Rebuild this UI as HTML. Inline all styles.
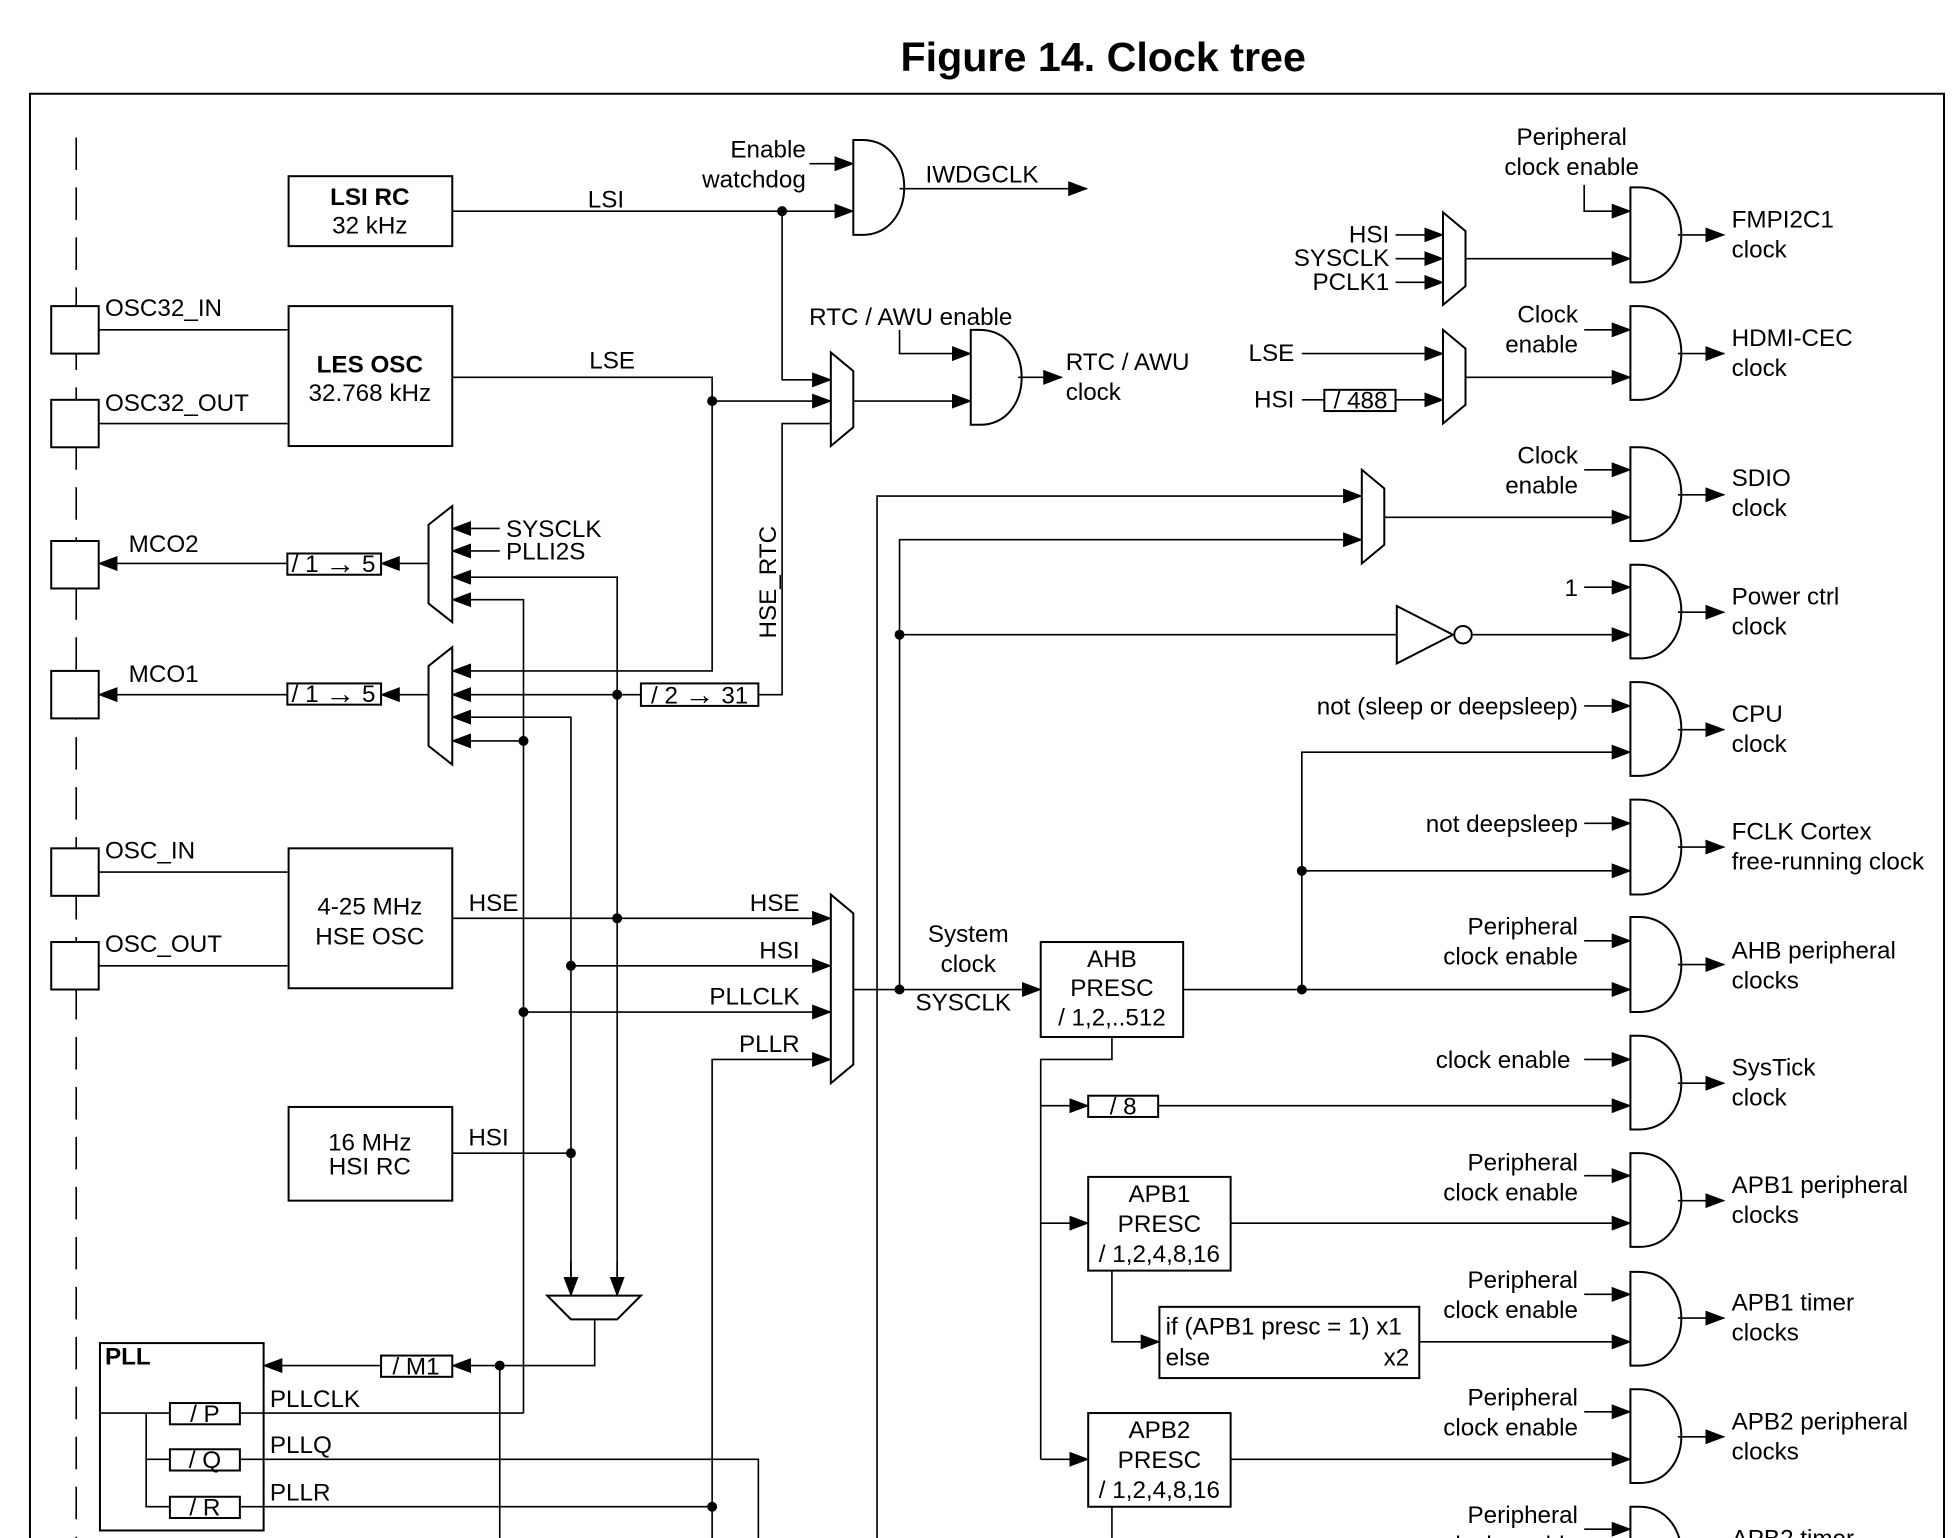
<!DOCTYPE html>
<html><head><meta charset="utf-8"><style>
html,body{margin:0;padding:0;background:#fff}
svg{display:block}
text{font-family:"Liberation Sans",Arial,sans-serif;font-size:19.4px;fill:#000}
.b{font-weight:bold}
.l{stroke:#000;stroke-width:1.3;fill:none}
.s{stroke:#000;stroke-width:1.6;fill:#fff}
.ar{font-size:24px}
</style></head><body>
<svg width="1959" height="1538" viewBox="0 0 1568 1231" xmlns="http://www.w3.org/2000/svg">
<defs>
<marker id="a" markerUnits="userSpaceOnUse" markerWidth="16" markerHeight="12" refX="15" refY="6" orient="auto"><path d="M0,0 L16,6 L0,12 Z" fill="#000"/></marker>
</defs>
<text x="883" y="57" text-anchor="middle" class="b" style="font-size:33px">Figure 14. Clock tree</text>
<path class="l" d="M24,1231 V75 H1556 V1231" style="stroke-width:1.6"/>
<line x1="61" y1="110" x2="61" y2="1231" class="l" stroke-dasharray="26,14"/>

<!-- pads -->
<g class="s">
<rect x="41" y="245" width="38" height="38"/><rect x="41" y="320" width="38" height="38"/>
<rect x="41" y="433" width="38" height="38"/><rect x="41" y="537" width="38" height="38"/>
<rect x="41" y="679" width="38" height="38"/><rect x="41" y="754" width="38" height="38"/>
</g>
<text x="84" y="253">OSC32_IN</text><text x="84" y="329">OSC32_OUT</text>
<text x="103" y="442">MCO2</text><text x="103" y="546">MCO1</text>
<text x="84" y="687">OSC_IN</text><text x="84" y="762">OSC_OUT</text>
<path class="l" d="M79,264H230 M79,339H230 M79,698H230 M79,773H230"/>

<!-- boxes left -->
<g class="s">
<rect x="231" y="141" width="131" height="56"/>
<rect x="231" y="245" width="131" height="112"/>
<rect x="231" y="679" width="131" height="112"/>
<rect x="231" y="886" width="131" height="75"/>
<rect x="80" y="1075" width="131" height="150"/>
</g>
<text x="296" y="164" text-anchor="middle" class="b">LSI RC</text><text x="296" y="187" text-anchor="middle">32 kHz</text>
<text x="296" y="298" text-anchor="middle" class="b">LES OSC</text><text x="296" y="321" text-anchor="middle">32.768 kHz</text>
<text x="296" y="732" text-anchor="middle">4-25 MHz</text><text x="296" y="756" text-anchor="middle">HSE OSC</text>
<text x="296" y="921" text-anchor="middle">16 MHz</text><text x="296" y="940" text-anchor="middle">HSI RC</text>
<text x="84" y="1092" class="b">PLL</text>

<!-- LSI / IWDG -->
<path class="l" d="M362,169H683" marker-end="url(#a)"/>
<text x="485" y="166" text-anchor="middle">LSI</text>
<text x="645" y="126" text-anchor="end">Enable</text><text x="645" y="150" text-anchor="end">watchdog</text>
<path class="l" d="M648,131H683" marker-end="url(#a)"/>
<path class="s" d="M683,112 H690 C735,112 735,188 690,188 H683 Z"/>
<path class="l" d="M720,151H870" marker-end="url(#a)"/>
<text x="786" y="146" text-anchor="middle">IWDGCLK</text>
<path class="l" d="M626,169V304H665" marker-end="url(#a)"/>

<!-- RTC -->
<path class="s" d="M665,282 L683,297 L683,342 L665,357 Z"/>
<path class="l" d="M362,302H570V537H362" marker-end="url(#a)"/>
<path class="l" d="M570,321H665" marker-end="url(#a)"/>
<text x="490" y="295" text-anchor="middle">LSE</text>
<path class="l" d="M665,339H626V556H607"/>
<text transform="translate(621,466) rotate(-90)" text-anchor="middle">HSE_RTC</text>
<path class="l" d="M683,321H777" marker-end="url(#a)"/>
<text x="729" y="260" text-anchor="middle">RTC / AWU enable</text>
<path class="l" d="M720,264V283H777" marker-end="url(#a)"/>
<path class="s" d="M777,264 H784 C829,264 829,340 784,340 H777 Z"/>
<path class="l" d="M815,302H850" marker-end="url(#a)"/>
<text x="853" y="296">RTC / AWU</text><text x="853" y="320">clock</text>

<!-- MCO2 mux -->
<path class="s" d="M343,420 L362,405 L362,498 L343,483 Z"/>
<path class="l" d="M400,423H362" marker-end="url(#a)"/><text x="405" y="430">SYSCLK</text>
<path class="l" d="M400,441H362" marker-end="url(#a)"/><text x="405" y="448">PLLI2S</text>
<path class="l" d="M494,1030V462H362" marker-end="url(#a)"/>
<path class="l" d="M419,1131V480H362" marker-end="url(#a)"/>
<path class="l" d="M343,451H305" marker-end="url(#a)"/>
<rect class="s" x="230" y="443" width="75" height="17"/><text x="267" y="458" text-anchor="middle">/ 1 <tspan class="ar" dy="1">→</tspan><tspan dy="-1"> 5</tspan></text>
<path class="l" d="M230,451H79" marker-end="url(#a)"/>

<!-- MCO1 mux -->
<path class="s" d="M343,533 L362,518 L362,612 L343,597 Z"/>
<path class="l" d="M513,556H362" marker-end="url(#a)"/>
<rect class="s" x="513" y="547" width="94" height="18"/><text x="560" y="563" text-anchor="middle">/ 2 <tspan class="ar" dy="1">→</tspan><tspan dy="-1"> 31</tspan></text>
<path class="l" d="M457,1030V574H362" marker-end="url(#a)"/>
<path class="l" d="M419,593H362" marker-end="url(#a)"/>
<path class="l" d="M343,556H305" marker-end="url(#a)"/>
<rect class="s" x="230" y="547" width="75" height="17"/><text x="267" y="562" text-anchor="middle">/ 1 <tspan class="ar" dy="1">→</tspan><tspan dy="-1"> 5</tspan></text>
<path class="l" d="M230,556H79" marker-end="url(#a)"/>
<path class="l" d="M457,1010V1037" marker-end="url(#a)"/>
<path class="l" d="M494,1010V1037" marker-end="url(#a)"/>

<!-- dots -->
<g fill="#000">
<circle cx="626" cy="169" r="4"/><circle cx="570" cy="321" r="4"/><circle cx="494" cy="556" r="4"/>
<circle cx="419" cy="593" r="4"/><circle cx="494" cy="735" r="4"/><circle cx="457" cy="773" r="4"/>
<circle cx="419" cy="810" r="4"/><circle cx="457" cy="923" r="4"/><circle cx="400" cy="1093" r="4"/>
<circle cx="570" cy="1206" r="4"/><circle cx="720" cy="792" r="4"/><circle cx="720" cy="508" r="4"/>
<circle cx="1042" cy="697" r="4"/><circle cx="1042" cy="792" r="4"/>
</g>

<!-- system mux inputs -->
<path class="l" d="M362,735H665" marker-end="url(#a)"/><text x="395" y="729" text-anchor="middle">HSE</text><text x="640" y="729" text-anchor="end">HSE</text>
<path class="l" d="M457,773H665" marker-end="url(#a)"/><text x="640" y="767" text-anchor="end">HSI</text>
<path class="l" d="M419,810H665" marker-end="url(#a)"/><text x="640" y="804" text-anchor="end">PLLCLK</text>
<path class="l" d="M570,1231V848H665" marker-end="url(#a)"/><text x="640" y="842" text-anchor="end">PLLR</text>
<path class="l" d="M362,923H457"/><text x="391" y="917" text-anchor="middle">HSI</text>
<path class="s" d="M665,716 L683,731 L683,852 L665,867 Z"/>
<path class="l" d="M683,792H833" marker-end="url(#a)"/>
<text x="775" y="754" text-anchor="middle">System</text><text x="775" y="778" text-anchor="middle">clock</text>
<text x="771" y="809" text-anchor="middle">SYSCLK</text>

<!-- PLL input mux -->
<path class="s" d="M438,1037 H513 L494,1056 H457 Z"/>
<path class="l" d="M476,1056V1093H362" marker-end="url(#a)"/>
<rect class="s" x="305" y="1085" width="57" height="17"/><text x="333" y="1100" text-anchor="middle">/ M1</text>
<path class="l" d="M305,1093H211" marker-end="url(#a)"/>
<path class="l" d="M400,1093V1231"/>
<path class="l" d="M80,1131H136 M117,1131V1206H136 M117,1168H136"/>
<rect class="s" x="136" y="1123" width="56" height="17"/><text x="164" y="1138" text-anchor="middle">/ P</text>
<rect class="s" x="136" y="1160" width="56" height="17"/><text x="164" y="1175" text-anchor="middle">/ Q</text>
<rect class="s" x="136" y="1198" width="56" height="17"/><text x="164" y="1213" text-anchor="middle">/ R</text>
<path class="l" d="M192,1131H419 M192,1168H607V1231 M192,1206H570"/>
<text x="216" y="1126">PLLCLK</text><text x="216" y="1163">PLLQ</text><text x="216" y="1201">PLLR</text>

<!-- SDIO mux, inverter -->
<path class="l" d="M702,1231V397H1090" marker-end="url(#a)"/>
<path class="l" d="M720,792V432H1090" marker-end="url(#a)"/>
<path class="s" d="M1090,376 L1108,391 L1108,436 L1090,451 Z"/>
<path class="l" d="M1108,414H1305" marker-end="url(#a)"/>
<path class="l" d="M720,508H1118"/>
<path class="s" d="M1118,485 L1163,508 L1118,531 Z"/>
<circle class="s" cx="1171" cy="508" r="7"/>
<path class="l" d="M1178,508H1305" marker-end="url(#a)"/>

<!-- FMPI2C1 / HDMI muxes -->
<path class="s" d="M1155,170 L1173,185 L1173,229 L1155,244 Z"/>
<path class="l" d="M1117,188H1155" marker-end="url(#a)"/><text x="1112" y="194" text-anchor="end">HSI</text>
<path class="l" d="M1117,207H1155" marker-end="url(#a)"/><text x="1112" y="213" text-anchor="end">SYSCLK</text>
<path class="l" d="M1117,226H1155" marker-end="url(#a)"/><text x="1112" y="232" text-anchor="end">PCLK1</text>
<path class="l" d="M1173,207H1305" marker-end="url(#a)"/>
<path class="l" d="M1268,148V169H1305" marker-end="url(#a)"/>
<text x="1258" y="116" text-anchor="middle">Peripheral</text><text x="1258" y="140" text-anchor="middle">clock enable</text>
<path class="s" d="M1155,264 L1173,279 L1173,324 L1155,339 Z"/>
<path class="l" d="M1042,283H1155" marker-end="url(#a)"/><text x="1036" y="289" text-anchor="end">LSE</text>
<path class="l" d="M1042,320H1060 M1117,320H1155" marker-end="url(#a)"/><text x="1036" y="326" text-anchor="end">HSI</text>
<rect class="s" x="1060" y="312" width="57" height="17"/><text x="1089" y="327" text-anchor="middle">/ 488</text>
<path class="l" d="M1173,302H1305" marker-end="url(#a)"/>

<!-- AHB etc -->
<rect class="s" x="833" y="754" width="114" height="76"/>
<text x="890" y="774" text-anchor="middle">AHB</text><text x="890" y="797" text-anchor="middle">PRESC</text><text x="890" y="821" text-anchor="middle">/ 1,2,..512</text>
<path class="l" d="M947,792H1305" marker-end="url(#a)"/>
<path class="l" d="M1042,792V602H1305" marker-end="url(#a)"/>
<path class="l" d="M1042,697H1305" marker-end="url(#a)"/>
<path class="l" d="M890,830V848H833V1168"/>
<path class="l" d="M833,885H871" marker-end="url(#a)"/>
<rect class="s" x="871" y="877" width="56" height="17"/><text x="899" y="892" text-anchor="middle">/ 8</text>
<path class="l" d="M927,885H1305" marker-end="url(#a)"/>
<path class="l" d="M833,979H871" marker-end="url(#a)"/>
<rect class="s" x="871" y="942" width="114" height="75"/>
<text x="928" y="962" text-anchor="middle">APB1</text><text x="928" y="986" text-anchor="middle">PRESC</text><text x="928" y="1010" text-anchor="middle">/ 1,2,4,8,16</text>
<path class="l" d="M985,979H1305" marker-end="url(#a)"/>
<path class="l" d="M890,1017V1074H928" marker-end="url(#a)"/>
<rect class="s" x="928" y="1046" width="208" height="57"/>
<text x="933" y="1068">if (APB1 presc = 1) x1</text><text x="933" y="1093">else</text><text x="1128" y="1093" text-anchor="end">x2</text>
<path class="l" d="M1136,1074H1305" marker-end="url(#a)"/>
<path class="l" d="M833,1168H871" marker-end="url(#a)"/>
<rect class="s" x="871" y="1131" width="114" height="75"/>
<text x="928" y="1151" text-anchor="middle">APB2</text><text x="928" y="1175" text-anchor="middle">PRESC</text><text x="928" y="1199" text-anchor="middle">/ 1,2,4,8,16</text>
<path class="l" d="M985,1168H1305" marker-end="url(#a)"/>
<path class="l" d="M890,1206V1231"/>

<!-- right gates -->
<g class="s">
<path d="M1305,150 H1312 C1357,150 1357,226 1312,226 H1305 Z"/>
<path d="M1305,245 H1312 C1357,245 1357,320 1312,320 H1305 Z"/>
<path d="M1305,358 H1312 C1357,358 1357,433 1312,433 H1305 Z"/>
<path d="M1305,452 H1312 C1357,452 1357,527 1312,527 H1305 Z"/>
<path d="M1305,546 H1312 C1357,546 1357,621 1312,621 H1305 Z"/>
<path d="M1305,640 H1312 C1357,640 1357,716 1312,716 H1305 Z"/>
<path d="M1305,734 H1312 C1357,734 1357,810 1312,810 H1305 Z"/>
<path d="M1305,829 H1312 C1357,829 1357,904 1312,904 H1305 Z"/>
<path d="M1305,923 H1312 C1357,923 1357,998 1312,998 H1305 Z"/>
<path d="M1305,1018 H1312 C1357,1018 1357,1093 1312,1093 H1305 Z"/>
<path d="M1305,1112 H1312 C1357,1112 1357,1187 1312,1187 H1305 Z"/>
<path d="M1305,1206 H1312 C1357,1206 1357,1282 1312,1282 H1305 Z"/>
</g>
<g class="l">
<path d="M1343,188H1380" marker-end="url(#a)"/><path d="M1343,283H1380" marker-end="url(#a)"/>
<path d="M1343,396H1380" marker-end="url(#a)"/><path d="M1343,490H1380" marker-end="url(#a)"/>
<path d="M1343,584H1380" marker-end="url(#a)"/><path d="M1343,678H1380" marker-end="url(#a)"/>
<path d="M1343,772H1380" marker-end="url(#a)"/><path d="M1343,867H1380" marker-end="url(#a)"/>
<path d="M1343,961H1380" marker-end="url(#a)"/><path d="M1343,1055H1380" marker-end="url(#a)"/>
<path d="M1343,1150H1380" marker-end="url(#a)"/>
<path d="M1268,264H1305" marker-end="url(#a)"/><path d="M1268,376H1305" marker-end="url(#a)"/>
<path d="M1268,470H1305" marker-end="url(#a)"/><path d="M1268,565H1305" marker-end="url(#a)"/>
<path d="M1268,659H1305" marker-end="url(#a)"/><path d="M1268,753H1305" marker-end="url(#a)"/>
<path d="M1268,848H1305" marker-end="url(#a)"/><path d="M1268,941H1305" marker-end="url(#a)"/>
<path d="M1268,1036H1305" marker-end="url(#a)"/><path d="M1268,1130H1305" marker-end="url(#a)"/>
<path d="M1268,1224H1305" marker-end="url(#a)"/>
</g>
<g text-anchor="end">
<text x="1263" y="258">Clock</text><text x="1263" y="282">enable</text>
<text x="1263" y="371">Clock</text><text x="1263" y="395">enable</text>
<text x="1263" y="477">1</text>
<text x="1263" y="572">not (sleep or deepsleep)</text>
<text x="1263" y="666">not deepsleep</text>
<text x="1263" y="748">Peripheral</text><text x="1263" y="772">clock enable</text>
<text x="1257" y="855">clock enable</text>
<text x="1263" y="937">Peripheral</text><text x="1263" y="961">clock enable</text>
<text x="1263" y="1031">Peripheral</text><text x="1263" y="1055">clock enable</text>
<text x="1263" y="1125">Peripheral</text><text x="1263" y="1149">clock enable</text>
<text x="1263" y="1219">Peripheral</text><text x="1263" y="1243">clock enable</text>
</g>
<g>
<text x="1386" y="182">FMPI2C1</text><text x="1386" y="206">clock</text>
<text x="1386" y="277">HDMI-CEC</text><text x="1386" y="301">clock</text>
<text x="1386" y="389">SDIO</text><text x="1386" y="413">clock</text>
<text x="1386" y="484">Power ctrl</text><text x="1386" y="508">clock</text>
<text x="1386" y="578">CPU</text><text x="1386" y="602">clock</text>
<text x="1386" y="672">FCLK Cortex</text><text x="1386" y="696">free-running clock</text>
<text x="1386" y="767">AHB peripheral</text><text x="1386" y="791">clocks</text>
<text x="1386" y="861">SysTick</text><text x="1386" y="885">clock</text>
<text x="1386" y="955">APB1 peripheral</text><text x="1386" y="979">clocks</text>
<text x="1386" y="1049">APB1 timer</text><text x="1386" y="1073">clocks</text>
<text x="1386" y="1144">APB2 peripheral</text><text x="1386" y="1168">clocks</text>
<text x="1386" y="1238">APB2 timer</text>
</g>
</svg>
</body></html>
